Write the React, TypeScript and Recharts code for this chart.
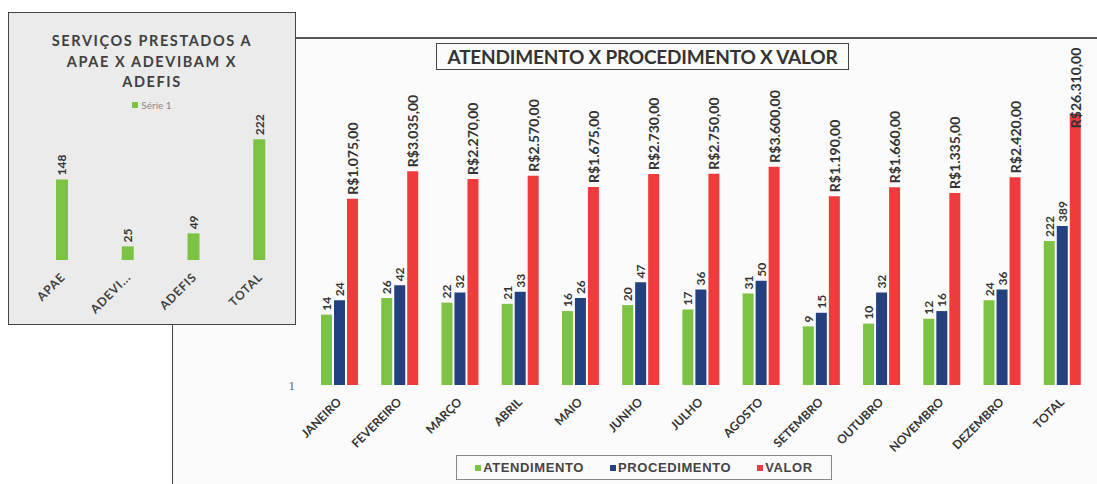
import React from "react";
import { BarChart, Bar, XAxis, YAxis, Legend, LabelList } from "recharts";

// main chart: monthly data (log axis)
const months = [
  "JANEIRO", "FEVEREIRO", "MARÇO", "ABRIL", "MAIO", "JUNHO", "JULHO",
  "AGOSTO", "SETEMBRO", "OUTUBRO", "NOVEMBRO", "DEZEMBRO", "TOTAL",
];
const atendimento = [14, 26, 22, 21, 16, 20, 17, 31, 9, 10, 12, 24, 222];
const procedimento = [24, 42, 32, 33, 26, 47, 36, 50, 15, 32, 16, 36, 389];
const valor = [1075, 3035, 2270, 2570, 1675, 2730, 2750, 3600, 1190, 1660, 1335, 2420, 26310];
const yTicks = [1];

// inset chart
const entidades = ["APAE", "ADEVIBAM", "ADEFIS", "TOTAL"];
const servicos = [148, 25, 49, 222];

const GREEN = "#7cc243";
const BLUE = "#24407f";
const RED = "#ef3b3c";
const FONT = "Lato, 'Open Sans', sans-serif";

const mainData = months.map((m, i) => ({
  mes: m,
  atendimento: atendimento[i],
  procedimento: procedimento[i],
  valor: valor[i],
}));

const insetData = entidades.map((e, i) => ({ nome: e, serie1: servicos[i] }));

const brl = (v: number) => {
  const [int, dec] = v.toFixed(2).split(".");
  return "R$" + int.replace(/\B(?=(\d{3})+(?!\d))/g, ".") + "," + dec;
};

const makeLabel = (fontSize: number, fmt: (v: number) => string) => (props: any) => {
  const { x, y, width, value } = props;
  const text = fmt(Number(value));
  const cx = Number(x) + Number(width) / 2;
  const len = text.length * fontSize * 0.56;
  let start = Number(y) - 4;
  if (start - len < 3) start = 3 + len;
  return (
    <text
      x={cx}
      y={start}
      transform={`rotate(-90 ${cx} ${start})`}
      textAnchor="start"
      dominantBaseline="central"
      fontSize={fontSize}
      fontWeight={700}
      fontFamily={FONT}
      fill="#333"
    >
      {text}
    </text>
  );
};

const numLabel = makeLabel(12, (v) => String(v));
const moneyLabel = makeLabel(14, brl);

const MonthTick = (props: any) => {
  const { x, y, payload } = props;
  return (
    <g transform={`translate(${x + 3},${y + 10})`}>
      <text transform="rotate(-45)" textAnchor="end" fontSize={12} fontWeight={700} fontFamily={FONT} fill="#333">
        {payload.value}
      </text>
    </g>
  );
};

const InsetTick = (props: any) => {
  const { x, y, payload } = props;
  const v: string = payload.value;
  const label = v.length > 6 ? v.slice(0, 5) + "..." : v;
  return (
    <g transform={`translate(${x + 4},${y + 10})`}>
      <text transform="rotate(-45)" textAnchor="end" fontSize={12} fontWeight={700} fontFamily={FONT} fill="#404040" letterSpacing={0.8}>
        {label}
      </text>
    </g>
  );
};

const MainLegend = () => (
  <div
    style={{
      display: "flex",
      justifyContent: "center",
      alignItems: "center",
      gap: 26,
      height: "100%",
      boxSizing: "border-box",
      border: "1px solid #888",
      background: "#fafafa",
      fontFamily: "'Liberation Sans', Arial, sans-serif",
      fontWeight: 700,
      fontSize: 13,
      color: "#444",
      letterSpacing: 0.6,
    }}
  >
    {[
      ["ATENDIMENTO", GREEN],
      ["PROCEDIMENTO", BLUE],
      ["VALOR", RED],
    ].map(([name, c]) => (
      <span key={name} style={{ display: "flex", alignItems: "center" }}>
        <span style={{ width: 6, height: 6, background: c, marginRight: 2, display: "inline-block" }} />
        {name}
      </span>
    ))}
  </div>
);

const InsetLegend = () => (
  <div style={{ display: "flex", justifyContent: "center", alignItems: "center", fontFamily: FONT, fontSize: 10, color: "#888" }}>
    <span style={{ width: 6, height: 6, background: GREEN, marginRight: 3, display: "inline-block" }} />
    Série 1
  </div>
);

export default function App() {
  return (
    <div style={{ position: "absolute", left: 0, top: 0, width: 1097, height: 484, background: "#fff", overflow: "hidden" }}>
      {/* main chart */}
      <div
        style={{
          position: "absolute",
          left: 172,
          top: 37,
          width: 940,
          height: 460,
          background: "#fbfbfb",
          borderTop: "2px solid #555",
          borderLeft: "1px solid #444",
        }}
      >
        <BarChart
          width={925}
          height={447}
          data={mainData}
          margin={{ top: 39, right: 6, left: 0, bottom: 0 }}
          barSize={11}
          barGap={2}
        >
          <XAxis dataKey="mes" interval={0} axisLine={false} tickLine={false} height={101} tick={<MonthTick />} />
          <YAxis
            scale="log"
            domain={[1, 100000]}
            ticks={yTicks}
            allowDataOverflow
            axisLine={false}
            tickLine={false}
            width={136}
            tickMargin={8}
            tick={{ fontSize: 13, fill: "#666", fontFamily: "'Liberation Serif', serif" }}
          />
          <Legend
            layout="horizontal"
            verticalAlign="middle"
            align="center"
            content={<MainLegend />}
            wrapperStyle={{ left: 283, top: 416, width: 376, height: 25 }}
          />
          <Bar dataKey="atendimento" fill={GREEN} isAnimationActive={false}>
            <LabelList dataKey="atendimento" content={numLabel} />
          </Bar>
          <Bar dataKey="procedimento" fill={BLUE} isAnimationActive={false}>
            <LabelList dataKey="procedimento" content={numLabel} />
          </Bar>
          <Bar dataKey="valor" fill={RED} isAnimationActive={false}>
            <LabelList dataKey="valor" content={moneyLabel} />
          </Bar>
        </BarChart>
        <div
          style={{
            position: "absolute",
            left: 263,
            top: 4,
            width: 413,
            height: 27,
            boxSizing: "border-box",
            border: "1px solid #444",
            background: "#fbfbfb",
            fontFamily: FONT,
            fontWeight: 700,
            fontSize: 19,
            color: "#333",
            textAlign: "center",
            lineHeight: "25px",
            whiteSpace: "nowrap",
            letterSpacing: -0.2,
          }}
        >
          ATENDIMENTO X PROCEDIMENTO X VALOR
        </div>
      </div>

      {/* inset chart */}
      <div
        style={{
          position: "absolute",
          left: 8,
          top: 12,
          width: 288,
          height: 313,
          boxSizing: "border-box",
          background: "#ebebeb",
          border: "1px solid #444",
        }}
      >
        <div
          style={{
            position: "absolute",
            left: 0,
            top: 18,
            width: "100%",
            textAlign: "center",
            fontFamily: FONT,
            fontWeight: 700,
            fontSize: 14.5,
            lineHeight: "20.5px",
            letterSpacing: 1.6,
            color: "#404040",
          }}
        >
          SERVIÇOS PRESTADOS A<br />APAE X ADEVIBAM X<br />ADEFIS
        </div>
        <BarChart
          width={286}
          height={311}
          data={insetData}
          margin={{ top: 111, right: 3, left: 20, bottom: 0 }}
          barSize={12}
        >
          <XAxis dataKey="nome" interval={0} axisLine={false} tickLine={false} height={64} tick={<InsetTick />} />
          <YAxis domain={[0, 250]} hide />
          <Legend
            layout="horizontal"
            verticalAlign="middle"
            align="center"
            content={<InsetLegend />}
            wrapperStyle={{ left: 0, top: 86, width: 286, height: 14 }}
          />
          <Bar dataKey="serie1" fill={GREEN} isAnimationActive={false}>
            <LabelList dataKey="serie1" content={numLabel} />
          </Bar>
        </BarChart>
      </div>
    </div>
  );
}
